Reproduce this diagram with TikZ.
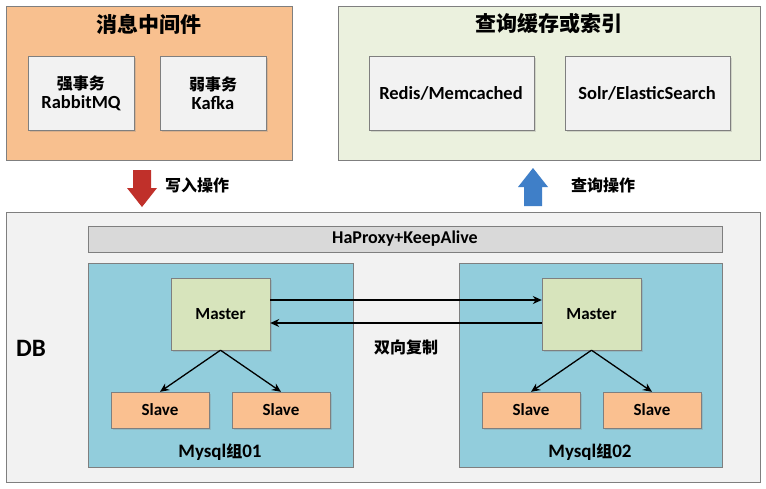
\documentclass[tikz,border=0pt]{standalone}
\usepackage{fontspec}
\setmainfont{Carlito}
\newfontfamily\cjk{Noto Sans CJK SC}
\usetikzlibrary{arrows.meta,shadows}
\definecolor{orgbg}{HTML}{F8C08F}
\definecolor{grnbg}{HTML}{EBF1DE}
\definecolor{dbbg}{HTML}{F2F2F2}
\definecolor{grp}{HTML}{92CDDC}
\definecolor{mst}{HTML}{D7E4BC}
\definecolor{slv}{HTML}{FAC090}
\definecolor{bord}{HTML}{7F7F7F}
\definecolor{redar}{HTML}{C0302A}
\definecolor{bluar}{HTML}{3F7FC8}
\begin{document}
\begin{tikzpicture}[x=1pt,y=-1pt,
  outer/.style={draw=bord,line width=0.8pt},
  box/.style={draw=bord,line width=0.8pt,fill=dbbg,drop shadow={opacity=0.25,shadow xshift=1.5pt,shadow yshift=-1.5pt}},
  lbl/.style={font=\bfseries\fontsize{18.5}{19}\selectfont,align=center},
  ttl/.style={font=\cjk\bfseries\fontsize{21}{23}\selectfont},
  zh/.style={font=\cjk\bfseries\fontsize{16}{18}\selectfont},
  con/.style={-{Stealth[length=9pt,width=8pt]},line width=1.3pt}]
\useasboundingbox (0,0) rectangle (766,488);
\fill[white] (0,0) rectangle (766,488);
% top boxes
\draw[outer,fill=orgbg] (6,6) rectangle (292,160);
\node[ttl] (t1) at (149,24) {消息中间件};
\draw[box] (28,56) rectangle (134,130);
\node[lbl] (rb) at (81,93) {{\cjk\fontsize{16}{19}\selectfont 强事务}\\RabbitMQ};
\draw[box] (160,56) rectangle (266,130);
\node[lbl] (kf) at (213,93) {{\cjk\fontsize{16}{19}\selectfont 弱事务}\\Kafka};
\draw[outer,fill=grnbg] (338,6) rectangle (760,160);
\node[ttl] (t2) at (549,24) {查询缓存或索引};
\draw[box] (369,56) rectangle (534,130);
\node[lbl] (rd) at (451,93) {Redis/Memcached};
\draw[box] (565,56) rectangle (730,130);
\node[lbl] (sl) at (647,93) {Solr/ElasticSearch};
% fat arrows
\fill[redar] (133,170) -- (151,170) -- (151,188) -- (157,188) -- (142,207) -- (127,188) -- (133,188) -- cycle;
\node[zh] (wl) at (197,185) {写入操作};
\fill[bluar] (524,206) -- (542,206) -- (542,187) -- (548,187) -- (533,168) -- (518,187) -- (524,187) -- cycle;
\node[zh] (ql) at (603,185) {查询操作};
% DB
\draw[outer,fill=dbbg] (6,212) rectangle (760,482);
\node[font=\bfseries\fontsize{25}{27}\selectfont] (db) at (31,348) {DB};
\draw[outer,fill=gray!30] (88,226) rectangle (722,252);
\node[font=\bfseries\fontsize{18}{20}\selectfont] (ha) at (405,239) {HaProxy+KeepAlive};
\draw[outer,fill=grp] (88,263) rectangle (353,467);
\draw[outer,fill=grp] (459,263) rectangle (722,467);
\node[font=\bfseries\fontsize{19}{21}\selectfont] (g1) at (220,452) {Mysql{\cjk\fontsize{16}{18}\selectfont 组}01};
\node[font=\bfseries\fontsize{19}{21}\selectfont] (g2) at (590,452) {Mysql{\cjk\fontsize{16}{18}\selectfont 组}02};
\tikzset{ms/.style={draw=bord,fill=mst,minimum width=99pt,minimum height=72pt,font=\bfseries\fontsize{17}{19}\selectfont,drop shadow={opacity=0.25,shadow xshift=1.5pt,shadow yshift=-1.5pt}},
 sv/.style={draw=bord,fill=slv,minimum width=98pt,minimum height=36pt,font=\bfseries\fontsize{17}{19}\selectfont,drop shadow={opacity=0.25,shadow xshift=1.5pt,shadow yshift=-1.5pt}}}
\node[ms] (m1) at (220.5,314) {Master};
\node[ms] (m2) at (591.5,314) {Master};
\node[sv] (s1) at (160,410) {Slave};
\node[sv] (s2) at (281,410) {Slave};
\node[sv] (s3) at (531,410) {Slave};
\node[sv] (s4) at (652,410) {Slave};
\draw[con] (m1.east|-0,300) -- (m2.west|-0,300);
\draw[con] (m2.west|-0,323) -- (m1.east|-0,323);
\node[zh] (bx) at (406,347) {双向复制};
\draw[con] (m1.south) -- (s1.north);
\draw[con] (m1.south) -- (s2.north);
\draw[con] (m2.south) -- (s3.north);
\draw[con] (m2.south) -- (s4.north);
\end{tikzpicture}
\end{document}
